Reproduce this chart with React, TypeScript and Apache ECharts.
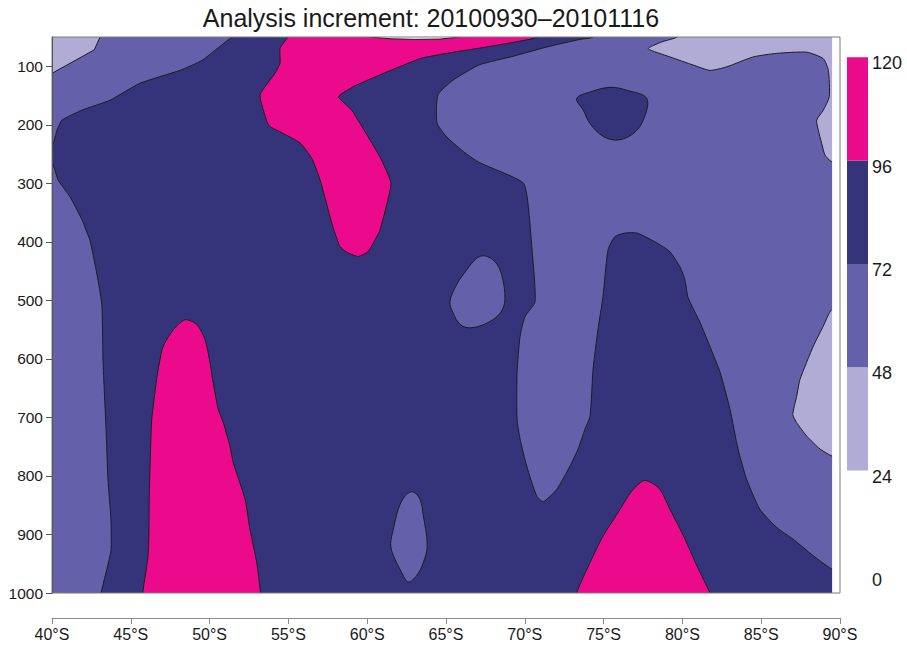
import { useEffect, useRef } from "react";
import * as echarts from "echarts";

type Pt = [number, number]; // [latitude °S, pressure hPa]

const TITLE = "Analysis increment: 20100930–20101116";
const FONT = "'Liberation Sans', Arial, Helvetica, sans-serif";

// Axes
const LAT_MIN = 40;
const LAT_MAX = 90;
const LAT_STEP = 5;
const LAT_DATA_END = 89.5; // last latitude of the analysis grid
const P_TOP = 50;
const P_BOTTOM = 1000;
const PRESSURE_TICKS = [100, 200, 300, 400, 500, 600, 700, 800, 900, 1000];

// Contour levels and the fill of each band (band i spans LEVELS[i]..LEVELS[i+1]; last = above top level)
const LEVELS = [0, 24, 48, 72, 96, 120];
const BAND_COLORS = ["#ffffff", "#b1acd5", "#6461aa", "#35347a", "#ec0a8c", "#ffffff"];
const CONTOUR_LINE = "#1c1c22";

// Filled contour regions, in painter's order (lat °S, hPa). Points beyond the
// domain close each region outside the plotted area.
const domainBox: Pt[] = [[38, 25], [92, 25], [92, 1030], [38, 1030]];

const midUpperWest: Pt[] = [
  [53.0, 25], [51.42, 50], [49.52, 90], [48.12, 107], [45.58, 129], [43.68, 158],
  [41.9, 175], [40.63, 192], [40.32, 209], [40, 235], [38, 250], [38, 25],
];

const lightUpperWest: Pt[] = [
  [43.5, 25], [43.05, 50], [42.68, 72], [40, 112], [38, 135], [38, 25],
];

const midWest: Pt[] = [
  [38, 262], [40, 266], [40.38, 294], [41.14, 323], [41.9, 362], [42.16, 380],
  [42.41, 397], [42.92, 465], [43.17, 510], [43.24, 606], [43.43, 720], [43.55, 806],
  [43.74, 874], [43.74, 928], [43.11, 1000], [42.9, 1030], [38, 1030],
];

const midEast: Pt[] = [
  [74.6, 25], [74.33, 50], [73.5, 54], [71.41, 67], [69.25, 83], [67.16, 97],
  [66.52, 106], [65.44, 124], [64.49, 149], [64.43, 197], [65.06, 221], [66.21, 248],
  [67.16, 265], [69.89, 299], [70.2, 334], [70.46, 414], [70.65, 502], [70.01, 528],
  [69.7, 562], [69.51, 623], [69.51, 703], [69.7, 737], [70.12, 783], [70.75, 834],
  [71.17, 844], [72.02, 823], [72.87, 783], [73.38, 754], [73.82, 720], [74.14, 698],
  [74.33, 618], [74.64, 550], [74.96, 494], [75.28, 414], [75.72, 391], [76.36, 385],
  [77.12, 385], [78.39, 402], [79.21, 417], [79.85, 443], [80.16, 465], [80.36, 495],
  [81.12, 538], [81.75, 579], [82.39, 623], [83.02, 686], [83.53, 754], [84.08, 806],
  [84.92, 857], [85.98, 888], [87.02, 908], [88.29, 936], [89.47, 959], [92, 990],
  [92, 25],
];

const lightNorthEast: Pt[] = [
  [81.0, 25], [79.69, 50], [78.68, 58.5], [77.84, 70], [79.21, 84], [80.69, 98],
  [81.75, 107], [82.81, 101], [84.5, 84], [85.98, 78], [87.89, 76], [88.94, 87],
  [89.26, 107], [89.32, 152], [88.94, 175], [88.52, 192], [88.62, 209], [88.84, 232],
  [89.05, 252], [89.47, 263], [92, 275], [92, 25],
];

const lightEast: Pt[] = [
  [92, 500], [89.47, 516], [88.94, 544], [88.31, 578], [87.46, 635], [87.25, 664],
  [87.0, 695], [87.25, 709], [87.89, 732], [88.73, 754], [89.49, 766], [92, 785],
];

const navyIsland: Pt[] = [
  [73.29, 155], [74.14, 144], [75.41, 136], [76.47, 141], [77.74, 155], [77.52, 192],
  [76.88, 215], [75.93, 226], [74.98, 220], [74.14, 198], [73.71, 175],
];

const midIslandUpper: Pt[] = [
  [67.47, 424], [68.11, 434], [68.53, 456], [68.74, 499], [68.43, 522], [67.58, 539],
  [66.52, 547], [65.89, 541], [65.46, 522], [65.25, 502], [65.68, 473], [66.31, 448],
  [66.95, 428],
];

const midIslandLower: Pt[] = [
  [62.89, 827], [63.35, 840], [63.56, 868], [63.81, 919], [63.56, 948], [63.14, 970],
  [62.61, 981], [62.19, 965], [61.66, 936], [61.49, 916], [61.66, 891], [61.97, 857],
  [62.4, 834],
];

const magentaUpper: Pt[] = [
  [55.3, 25], [54.97, 50], [54.47, 69], [54.47, 95], [54.15, 112], [53.2, 149],
  [53.64, 195], [53.83, 203], [54.47, 212], [55.74, 231], [56.48, 257], [57.01, 294],
  [57.64, 357], [57.89, 380], [58.27, 408], [58.78, 419], [59.44, 425], [60.05, 417],
  [60.43, 400], [60.81, 380], [61.51, 300], [60.81, 255], [60.18, 226], [59.02, 175],
  [58.17, 152], [59.33, 132], [63.35, 87], [65.25, 77], [67.58, 67], [70.75, 51],
  [72.5, 25],
];

const aboveTopSliver: Pt[] = [
  [59.9, 25], [60.18, 50], [61.45, 53], [63.03, 54], [64.62, 53.5], [65.89, 50], [66.2, 25],
];

const magentaWest: Pt[] = [
  [45.7, 1030], [45.76, 1000], [46.11, 931], [46.17, 834], [46.26, 749], [46.33, 703],
  [46.64, 635], [46.81, 607], [47.06, 578], [47.7, 550], [48.44, 533], [49.18, 541],
  [49.71, 567], [50.03, 607], [50.23, 641], [50.55, 686], [50.87, 709], [51.29, 749],
  [51.5, 777], [52.25, 840], [52.56, 891], [52.99, 948], [53.24, 1000], [53.4, 1030],
];

const magentaEast: Pt[] = [
  [73.1, 1030], [73.29, 1000], [74.14, 948], [74.98, 902], [75.93, 862], [76.78, 826],
  [77.52, 808], [77.94, 810], [78.58, 823], [79.21, 857], [80.06, 902], [80.91, 953],
  [81.75, 1000], [82.2, 1030],
];

// smooth: curvature applied to the outline (0 = straight segments)
const regions: { band: number; pts: Pt[]; outline: boolean; smooth: number }[] = [
  { band: 3, pts: domainBox, outline: false, smooth: 0 },
  { band: 2, pts: midUpperWest, outline: true, smooth: 0.15 },
  { band: 1, pts: lightUpperWest, outline: true, smooth: 0 },
  { band: 2, pts: midWest, outline: true, smooth: 0.15 },
  { band: 2, pts: midEast, outline: true, smooth: 0.2 },
  { band: 1, pts: lightNorthEast, outline: true, smooth: 0.2 },
  { band: 1, pts: lightEast, outline: true, smooth: 0.15 },
  { band: 3, pts: navyIsland, outline: true, smooth: 0.35 },
  { band: 2, pts: midIslandUpper, outline: true, smooth: 0.35 },
  { band: 2, pts: midIslandLower, outline: true, smooth: 0.35 },
  { band: 4, pts: magentaUpper, outline: true, smooth: 0.15 },
  { band: 5, pts: aboveTopSliver, outline: true, smooth: 0 },
  { band: 4, pts: magentaWest, outline: true, smooth: 0.25 },
  { band: 4, pts: magentaEast, outline: true, smooth: 0.25 },
];

// Colour bar layout
const CB_X = 847;
const CB_W = 21;
const CB_TOP = 57.3;
const CB_STEP = 103.3;

export default function App() {
  const ref = useRef<HTMLDivElement>(null);

  useEffect(() => {
    if (!ref.current) return;
    const chart = echarts.init(ref.current, null, { renderer: "svg" });

    const nBands = LEVELS.length - 1;
    const colorBar: any[] = [];
    for (let i = 1; i < nBands; i++) {
      colorBar.push({
        type: "rect",
        z: 100,
        shape: { x: CB_X, y: CB_TOP + (nBands - 1 - i) * CB_STEP, width: CB_W, height: CB_STEP },
        style: { fill: BAND_COLORS[i] },
      });
    }
    LEVELS.forEach((lv, j) => {
      colorBar.push({
        type: "text",
        z: 100,
        x: 872,
        y: CB_TOP + (LEVELS.length - 1 - j) * CB_STEP + 6,
        style: {
          text: String(lv),
          fontSize: 18,
          fontFamily: FONT,
          fill: "#1a1a1a",
          textAlign: "left",
          textVerticalAlign: "middle",
        },
      });
    });

    const option: any = {
      animation: false,
      backgroundColor: "#ffffff",
      textStyle: { fontFamily: FONT },
      grid: {
        left: 52,
        top: 37,
        width: 788,
        height: 556,
        show: true,
        z: 10,
        backgroundColor: "rgba(0,0,0,0)",
        borderColor: "#7a7a7a",
        borderWidth: 1,
      },
      xAxis: {
        type: "value",
        position: "bottom",
        offset: 25,
        min: LAT_MIN,
        max: LAT_MAX,
        interval: LAT_STEP,
        z: 11,
        axisLine: { show: true, lineStyle: { color: "#8a8a8a", width: 1 } },
        axisTick: { show: true, inside: false, length: 6, lineStyle: { color: "#8a8a8a" } },
        axisLabel: {
          margin: 8,
          fontSize: 16,
          fontFamily: FONT,
          color: "#1a1a1a",
          formatter: (v: number) => `${v}°S`,
        },
        splitLine: { show: false },
      },
      yAxis: {
        type: "value",
        inverse: true,
        min: P_TOP,
        max: P_BOTTOM,
        z: 11,
        axisLine: { show: true, lineStyle: { color: "#555555", width: 1 } },
        axisTick: {
          show: true,
          length: 6,
          customValues: PRESSURE_TICKS,
          lineStyle: { color: "#555555" },
        },
        axisLabel: {
          margin: 9,
          fontSize: 15.5,
          fontFamily: FONT,
          color: "#1a1a1a",
          customValues: PRESSURE_TICKS,
          formatter: (v: number) => String(v),
        },
        splitLine: { show: false },
      },
      graphic: [
        {
          type: "text",
          z: 100,
          x: 431,
          y: 18,
          style: {
            text: TITLE,
            fontSize: 25,
            fontFamily: FONT,
            fill: "#1a1a1a",
            textAlign: "center",
            textVerticalAlign: "middle",
          },
        },
        ...colorBar,
      ],
      series: [
        {
          type: "custom",
          coordinateSystem: "cartesian2d",
          clip: true,
          z: 2,
          encode: { x: 0, y: 1 },
          data: regions.map((r, i) => [r.pts[0][0], r.pts[0][1], i]),
          renderItem: (params: any, api: any) => {
            const r = regions[params.dataIndex];
            const points = r.pts.map((p) => api.coord(p));
            return {
              type: "polygon",
              shape: { points, smooth: r.smooth },
              style: {
                fill: BAND_COLORS[r.band],
                stroke: r.outline ? CONTOUR_LINE : "none",
                lineWidth: 1,
                lineJoin: "round",
              },
            };
          },
        },
        {
          // blank strip between the last grid latitude and the axis end
          type: "custom",
          coordinateSystem: "cartesian2d",
          clip: true,
          z: 3,
          encode: { x: 0, y: 1 },
          data: [[LAT_DATA_END, P_TOP]],
          renderItem: (_params: any, api: any) => {
            const a = api.coord([LAT_DATA_END, P_TOP]);
            const b = api.coord([LAT_MAX, P_BOTTOM]);
            return {
              type: "rect",
              shape: { x: a[0], y: a[1] - 2, width: b[0] - a[0] + 2, height: b[1] - a[1] + 4 },
              style: { fill: "#ffffff" },
            };
          },
        },
      ],
    };

    chart.setOption(option);
    return () => chart.dispose();
  }, []);

  return (
    <div
      ref={ref}
      style={{ position: "fixed", left: 0, top: 0, width: 907, height: 646, background: "#ffffff" }}
    />
  );
}
